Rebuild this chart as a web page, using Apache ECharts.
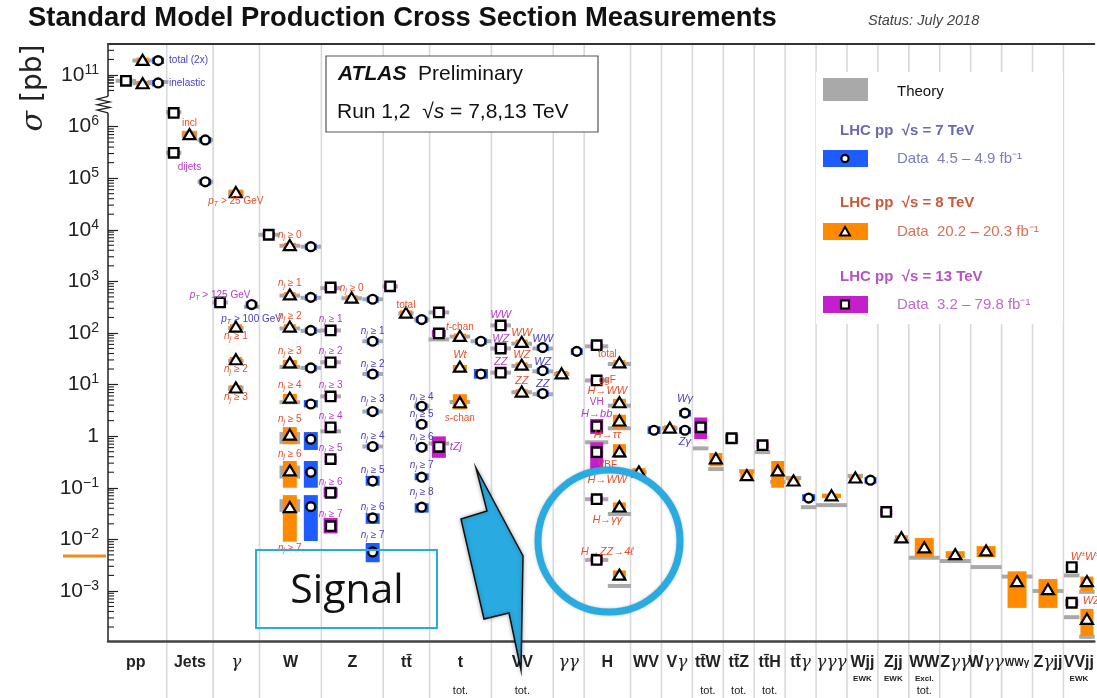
<!DOCTYPE html>
<html>
<head>
<meta charset="utf-8">
<script src="https://cdn.jsdelivr.net/npm/echarts@6.0.0/dist/echarts.min.js"></script>
<style>
html,body{margin:0;padding:0;background:#ffffff;}
#chart{width:1097px;height:698px;}
</style>
</head>
<body>
<div id="chart"></div>
<script>
// ---------------- categories & tick labels ----------------
const categories = ['pp','Jets','γ','W','Z','tt\u0304','t','VV','γγ','H','WV','Vγ','tt\u0304W','tt\u0304Z','tt\u0304H','tt\u0304γ','γγγ','Wjj','Zjj','WW','Zγγ','Wγγ','WWγ','Zγjj','VVjj'];
const categoryNotes = ['','','','','','','tot.','tot.','','','','','tot.','tot.','tot.','','','EWK','EWK','Excl.|tot.','','','','','EWK'];
const yTickExponents = [-3,-2,-1,0,1,2,3,4,5,6,11];

// ---------------- measurements ----------------
// [sqrt(s) TeV, sigma pb, data band low, data band high, theory low, theory high]
const ppData = [
  [8, 1.9e11, null, null, 1.9e11, 1.9e11],
  [7, 1.9e11, null, null, null, null],
  [13, 7.7e10, null, null, 7.7e10, 7.7e10],
  [8, 6.7e10, null, null, 6.9e10, 6.9e10],
  [7, 7.0e10, null, null, 7.0e10, 7.6e10]
];
const jetsData = [
  [13, 1.84e6, null, null, 1.9e6, 1.9e6],
  [8, 6.9e5, 6.2e5, 7.8e5, 6.0e5, 8.3e5],
  [7, 5.5e5, null, null, 5.5e5, 5.5e5],
  [13, 3.1e5, null, null, 3.1e5, 3.1e5],
  [7, 8.5e4, null, null, 8.5e4, 8.5e4]
];
const gammaData = [
  [8, 5.2e4, 4.5e4, 6.0e4, 4.4e4, 5.8e4],
  [13, 390, null, null, 390, 390],
  [7, 355, null, null, 300, 345],
  [8, 129, null, null, 125, 125],
  [8, 30, null, null, 29, 29],
  [8, 8.5, null, null, 7.5, 9.5]
];
const wData = [
  [13, 8000, null, null, 8000, 8000],
  [8, 4900, null, null, 4900, 4900],
  [7, 4700, null, null, 4700, 4700],
  [8, 540, null, null, 530, 530],
  [7, 490, null, null, 480, 480],
  [8, 129, null, null, 122, 122],
  [7, 112, null, null, 110, 110],
  [8, 26, 22, 30, 20, 24],
  [7, 21, null, null, 21, 21],
  [8, 5.4, 4.4, 6.6, 4.2, 4.9],
  [7, 4.2, 3.6, 5.0, null, null],
  [8, 1.04, 0.7, 1.5, 0.7, 1.2],
  [7, 0.87, 0.54, 1.2, null, null],
  [8, 0.21, 0.1, 0.33, 0.15, 0.27],
  [7, 0.20, 0.1, 0.33, null, null],
  [8, 0.041, 0.009, 0.072, 0.034, 0.06],
  [7, 0.043, 0.0093, 0.072, null, null]
];
const zData = [
  [13, 760, null, null, 740, 740],
  [8, 470, null, null, 470, 470],
  [7, 450, null, null, 450, 450],
  [13, 112, null, null, 112, 112],
  [7, 69, null, null, 69, 69],
  [13, 27, null, null, 27, 27],
  [7, 16, null, null, 16, 16],
  [13, 5.9, null, null, 5.9, 5.9],
  [7, 3.0, null, null, 3.0, 3.0],
  [13, 1.48, null, null, 1.24, 1.24],
  [7, 0.63, null, null, 0.63, 0.63],
  [13, 0.36, null, null, null, null],
  [7, 0.135, 0.11, 0.17, null, null],
  [13, 0.08, 0.065, 0.1, null, null],
  [7, 0.026, 0.02, 0.032, null, null],
  [13, 0.018, 0.013, 0.026, null, null],
  [7, 0.0057, 0.0036, 0.0085, null, null]
];
const ttData = [
  [13, 800, null, null, 800, 800],
  [8, 240, null, null, 240, 240],
  [7, 182, null, null, 182, 182],
  [7, 3.8, null, null, 3.8, 3.8],
  [7, 1.7, null, null, null, null],
  [7, 0.61, null, null, null, null],
  [7, 0.16, 0.14, 0.19, null, null],
  [7, 0.042, 0.033, 0.05, null, null]
];
const tData = [
  [13, 250, null, null, 250, 250],
  [13, 98, 84, 115, 75, 75],
  [8, 85, null, null, 85, 85],
  [7, 69, null, null, 69, 69],
  [8, 21.5, 19, 24, null, null],
  [7, 16, 13, 20, null, null],
  [8, 4.4, 3.3, 6.5, 4.6, 4.6],
  [13, 0.62, 0.38, 0.99, 0.72, 0.72]
];
const vvData = [
  [13, 140, null, null, 140, 140],
  [13, 50, null, null, 50, 50],
  [13, 17, null, null, 17, 17],
  [8, 65, null, null, 62, 62],
  [8, 23.5, null, null, 23, 23],
  [8, 7.1, null, null, 7.1, 7.1],
  [7, 52, null, null, 50, 50],
  [7, 18.6, null, null, 18, 18],
  [7, 6.7, null, null, 6.5, 6.5]
];
const ggData = [
  [8, 16, null, null, 16, 16],
  [7, 44, null, null, null, null]
];
const hData = [
  [13, 58, null, null, 55, 55],
  [8, 26, null, null, 25, 25],
  [13, 12, null, null, 12, 12],
  [8, 4.4, 3.7, 5.3, 3.9, 3.9],
  [13, 1.55, 1.1, 2.15, null, null],
  [8, 1.95, 1.4, 2.6, 1.42, 1.42],
  [13, 0.49, 0.2, 0.76, 0.76, 0.76],
  [8, 0.49, 0.38, 0.7, null, null],
  [13, 0.06, null, null, 0.06, 0.06],
  [8, 0.042, 0.035, 0.052, 0.031, 0.031],
  [13, 0.004, null, null, 0.004, 0.004],
  [8, 0.002, 0.0017, 0.0025, 0.00125, 0.00125]
];
const wvData = [
  [8, 0.2, 0.17, 0.24, 0.2, 0.2],
  [7, 1.3, 1.1, 1.55, null, null]
];
const vgData = [
  [8, 1.42, null, null, 1.42, 1.42],
  [7, 2.8, null, null, null, null],
  [7, 1.3, null, null, null, null]
];
const ttwData = [[13, 1.48, 0.88, 2.3, 0.58, 0.58], [8, 0.36, 0.26, 0.47, 0.23, 0.23]];
const ttzData = [[13, 0.91, 0.72, 1.1, null, null], [8, 0.17, 0.14, 0.22, 0.21, 0.21]];
const tthData = [[13, 0.67, null, null, 0.49, 0.49], [8, 0.21, 0.1, 0.33, 0.13, 0.13]];
const ttgData = [[8, 0.134, null, null, 0.155, 0.155], [7, 0.063, 0.055, 0.075, 0.042, 0.042]];
const gggData = [[8, 0.069, 0.063, 0.077, 0.046, 0.046]];
const wjjData = [[8, 0.153, null, null, 0.17, 0.17], [7, 0.14, null, null, null, null]];
const zjjData = [[13, 0.034, null, null, null, null], [8, 0.0106, 0.0093, 0.012, 0.0093, 0.0093]];
const wwData = [[8, 0.0068, 0.0046, 0.0106, 0.0044, 0.0044]];
const zggData = [[8, 0.005, 0.0043, 0.0059, 0.0038, 0.0038]];
const wggData = [[8, 0.0059, 0.0045, 0.0074, 0.0029, 0.0029]];
const wwgData = [[8, 0.0015, 0.00047, 0.0024, 0.0019, 0.0019]];
const zgjjData = [[8, 0.00105, 0.00047, 0.0017, 0.001, 0.001]];
const vvjjData = [
  [13, 0.0029, null, null, 0.002, 0.002],
  [8, 0.0015, 0.001, 0.0019, 0.00096, 0.00096],
  [13, 0.00059, 0.0005, 0.0007, 0.00031, 0.00031],
  [8, 0.00028, 0.000135, 0.00045, 0.000129, 0.000129]
];

// ---------------- point annotations: [slot, sigma pb, text, colour (sqrt s), align] ----------------
const NJ = k => '{i|n}{j|j} ≥ ' + k;
const ppLabels = [['7', 1.9e11, 'total (2x)', 7, 'l'], ['7', 7.0e10, 'inelastic', 7, 'l']];
const jetsLabels = [['8', 1.17e6, 'incl', 8], ['8', 1.6e5, 'dijets', 13]];
const gammaLabels = [['8', 3.6e4, '{i|p}{j|T} > 25 GeV', 8], ['13', 530, '{i|p}{j|T} > 125 GeV', 13], ['7', 182, '{i|p}{j|T} > 100 GeV', 7],
  ['8', 85, NJ(1), 8], ['8', 19.5, NJ(2), 8], ['8', 5.6, NJ(3), 8]];
const wLabels = [['8', 8000, NJ(0), 8], ['8', 910, NJ(1), 8], ['8', 209, NJ(2), 8], ['8', 44, NJ(3), 8], ['8', 9.6, NJ(4), 8],
  ['8', 2.1, NJ(5), 8], ['8', 0.45, NJ(6), 8], ['8', 0.0068, NJ(7), 8]];
const zLabels = [['8', 740, NJ(0), 8],
  ['13', 182, NJ(1), 13], ['13', 44, NJ(2), 13], ['13', 9.7, NJ(3), 13], ['13', 2.4, NJ(4), 13], ['13', 0.58, NJ(5), 13], ['13', 0.129, NJ(6), 13], ['13', 0.031, NJ(7), 13],
  ['7', 107, NJ(1), 7], ['7', 24.5, NJ(2), 7], ['7', 5.2, NJ(3), 7], ['7', 1.0, NJ(4), 7], ['7', 0.22, NJ(5), 7], ['7', 0.042, NJ(6), 7], ['7', 0.0121, NJ(7), 7]];
const ttLabels = [['8', 340, 'total', 8], ['7', 5.6, NJ(4), 7], ['7', 2.65, NJ(5), 7], ['7', 0.95, NJ(6), 7], ['7', 0.27, NJ(7), 7], ['7', 0.082, NJ(8), 7]];
const tLabels = [['8', 128, '{i|t}-chan', 8], ['8', 37, '{I|Wt}', 8], ['8', 2.2, '{i|s}-chan', 8], ['13', 0.62, '{I|tZj}', 13, 'l']];
const vvLabels = [['13', 220, '{I|WW}', 13], ['13', 75, '{I|WZ}', 13], ['13', 27, '{I|ZZ}', 13],
  ['8', 102, '{I|WW}', 8], ['8', 37, '{I|WZ}', 8], ['8', 11.5, '{I|ZZ}', 8],
  ['7', 78, '{I|WW}', 7], ['7', 28, '{I|WZ}', 7], ['7', 10.5, '{I|ZZ}', 7]];
const hLabels = [['c', 38, 'total', 8], ['c', 12, 'ggF', 8], ['c', 7.4, '{I|H→WW}', 8], ['13', 4.5, 'VH', 13], ['13', 2.65, '{I|H→bb}', 13],
  ['c', 1.04, '{I|H→ττ}', 8], ['c', 0.27, 'VBF', 8], ['c', 0.14, '{I|H→WW}', 8], ['c', 0.0236, '{I|H→γγ}', 8], ['c', 0.0057, '{I|H→ZZ→4ℓ}', 8]];
const vgLabels = [['7', 5.2, '{I|Wγ}', 7], ['7', 0.76, '{I|Zγ}', 7]];
const vvjjLabels = [['13', 0.00455, '{I|W}{u|±}{I|W}{u|±}', 8, 'L'], ['13', 0.00064, '{I|WZ}', 8, 'l']];

// ---------------- layout ----------------
const catUnits = [4,3,3,4,4,3,4,4,2,3,2,2,2,2,2,2,2,2,2,2,2,2,2,2,2];
const X0 = 0.2, X1 = 64, YMIN = -3.97, YMAX = 7.6;
const catData = [ppData, jetsData, gammaData, wData, zData, ttData, tData, vvData, ggData, hData, wvData, vgData,
  ttwData, ttzData, tthData, ttgData, gggData, wjjData, zjjData, wwData, zggData, wggData, wwgData, zgjjData, vvjjData];
const catLabels = [ppLabels, jetsLabels, gammaLabels, wLabels, zLabels, ttLabels, tLabels, vvLabels, [], hLabels, [], vgLabels,
  [], [], [], [], [], [], [], [], [], [], [], [], vvjjLabels];

const boxColor = {7:'#1f5cff', 8:'#ff8a00', 13:'#c41fca'};
const textColor = {7:'#4a40b8', 8:'#e4502e', 13:'#b23ec4'};
const GREY = '#a9a9a9';

function ly(v){ const l = Math.log10(v); return l > 8 ? l - 4 : l; }

const unitsStart = []; { let a = 0; for (const u of catUnits){ unitsStart.push(a); a += u; } }
const energiesIn = catData.map(d => [13,8,7].filter(e => d.some(r => r[0] === e)));
function slotX(ci, key){
  const s = unitsStart[ci], u = catUnits[ci];
  if (key === 'c') return s + u / 2;
  const e = +key, es = energiesIn[ci];
  let fr;
  if (ci === 0) fr = {13:.34, 8:.61, 7:.86}[e];
  else if (es.length === 3) fr = {13:.15, 8:.49, 7:.83}[e];
  else if (es.length === 2) fr = es.indexOf(e) === 0 ? .27 : .76;
  else fr = .5;
  return s + fr * u;
}

const pts = [];
catData.forEach((arr, ci) => arr.forEach(r => pts.push({ci, E:r[0], v:r[1], bLo:r[2], bHi:r[3], tLo:r[4], tHi:r[5], x:slotX(ci, String(r[0]))})));
const labs = [];
catLabels.forEach((arr, ci) => arr.forEach(r => labs.push({x:slotX(ci, r[0]), v:r[1], text:r[2], E:r[3], align:r[4] || 'c'})));

const boundaries = unitsStart.slice(1);
const minorVals = [];
for (let d = -4; d <= 11; d++){
  for (let k = 2; k <= 9; k++){
    const y = ly(k * Math.pow(10, d));
    if (d >= 7 && d <= 9) continue;
    if (y < YMIN || y > YMAX) continue;
    if (y > 6.22 && y < 6.62) continue;
    minorVals.push(y);
  }
}

function marker(E, x, y){
  if (E === 7) return {type:'circle', shape:{cx:x, cy:y, r:4.4}, style:{fill:'#fff', stroke:'#000', lineWidth:2.4}};
  if (E === 8) return {type:'polygon', shape:{points:[[x, y-5.8],[x+6, y+4.3],[x-6, y+4.3]]}, style:{fill:'#fff', stroke:'#000', lineWidth:2.2}};
  return {type:'rect', shape:{x:x-4.7, y:y-4.7, width:9.4, height:9.4}, style:{fill:'#fff', stroke:'#000', lineWidth:2.4}};
}

function renderPoint(params, api){
  const p = pts[params.dataIndex];
  const c = api.coord([p.x, ly(p.v)]);
  const unit = api.size([1, 0])[0];
  const ns = energiesIn[p.ci].length;
  const kids = [];
  if (p.tLo != null){
    const tw = catUnits[p.ci] / ns * unit;
    let y1 = api.coord([p.x, ly(p.tHi)])[1], y2 = api.coord([p.x, ly(p.tLo)])[1];
    if (y2 - y1 < 4){ const m = (y1 + y2) / 2; y1 = m - 2; y2 = m + 2; }
    kids.push({type:'rect', shape:{x:c[0]-tw/2, y:y1, width:tw, height:y2-y1}, style:{fill:GREY}});
  }
  let bw, b1, b2;
  if (p.bLo != null){
    bw = ns === 1 ? 19 : (ns === 3 ? 14 : 13);
    b1 = api.coord([p.x, ly(p.bHi)])[1]; b2 = api.coord([p.x, ly(p.bLo)])[1];
  } else { bw = 12; b1 = c[1] - 3; b2 = c[1] + 3.5; }
  kids.push({type:'rect', shape:{x:c[0]-bw/2, y:b1, width:bw, height:b2-b1}, style:{fill:boxColor[p.E]}});
  kids.push(marker(p.E, c[0], c[1]));
  return {type:'group', children:kids};
}

function richFor(col){
  return {
    i:{fontStyle:'italic', fill:col, fontSize:10, fontFamily:'Liberation Sans', lineHeight:12},
    j:{fontStyle:'italic', fill:col, fontSize:7, fontFamily:'Liberation Sans', lineHeight:8, verticalAlign:'bottom'},
    I:{fontStyle:'italic', fill:col, fontSize:11, fontFamily:'Liberation Sans', lineHeight:12},
    u:{fill:col, fontSize:7, fontFamily:'Liberation Sans', lineHeight:8, verticalAlign:'top'}
  };
}
function renderLabel(params, api){
  const L = labs[params.dataIndex];
  const c = api.coord([L.x, ly(L.v)]);
  const col = textColor[L.E];
  let x = c[0], align = 'center';
  if (L.align === 'l'){ x += 11; align = 'left'; }
  else if (L.align === 'L'){ x -= 1; align = 'left'; }
  return {type:'text', x:x, y:c[1], style:{text:L.text, fill:col, fontSize:10, fontFamily:'Liberation Sans', align:align, verticalAlign:'middle', lineHeight:12, rich:richFor(col)}};
}
function renderBoundary(params, api){
  const b = boundaries[params.dataIndex];
  const top = api.coord([b, YMAX]), bot = api.coord([b, YMIN]);
  return {type:'line', shape:{x1:top[0], y1:top[1], x2:bot[0], y2:bot[1] + 60}, style:{stroke:'#d9d9d9', lineWidth:1.6}};
}
function renderMinor(params, api){
  const c = api.coord([X0, minorVals[params.dataIndex]]);
  return {type:'line', shape:{x1:c[0], y1:c[1], x2:c[0] + 6, y2:c[1]}, style:{stroke:'#222', lineWidth:1.1}};
}
function renderBreak(params, api){
  const a = api.coord([X0, 6.585]), b = api.coord([X0, 6.265]);
  const x = a[0], y0 = a[1], h = b[1] - a[1];
  const pts2 = [[x, y0]];
  const n = 6;
  for (let i = 1; i < n; i++) pts2.push([i % 2 ? x - 11 : x + 2, y0 + h * i / n]);
  pts2.push([x, y0 + h]);
  return {type:'group', children:[
    {type:'rect', shape:{x:x-2, y:y0, width:4, height:h}, style:{fill:'#fff'}},
    {type:'polyline', shape:{points:pts2}, style:{stroke:'#222', lineWidth:1.2, fill:null}}
  ]};
}

const centers = catUnits.map((u, i) => unitsStart[i] + u / 2);
function catLabel(val){
  let i = 0, best = 1e9;
  centers.forEach((c, k) => { if (Math.abs(c - val) < best){ best = Math.abs(c - val); i = k; } });
  const name = categories[i];
  const main = name === 'WWγ' ? '{k|WWγ}' : name.replace(/γ/g, '{g|γ}');
  const note = categoryNotes[i];
  if (!note) return main;
  if (note === 'tot.') return main + '\n{e| }\n{s|tot.}';
  if (note === 'EWK') return main + '\n{e|EWK}';
  const parts = note.split('|');
  return main + '\n{e|' + parts[0] + '}\n{s|' + parts[1] + '}';
}

const yTickVals = yTickExponents.map(e => ly(Math.pow(10, e)));

const chart = echarts.init(document.getElementById('chart'));
const option = {
  animation: false,
  backgroundColor: '#ffffff',
  grid: {left:108, right:0, top:44, bottom:56},
  xAxis: [
    {type:'value', min:X0, max:X1, z:10,
     axisLine:{show:true, onZero:false, lineStyle:{color:'#444', width:2.5}},
     axisTick:{show:false}, splitLine:{show:false},
     axisLabel:{customValues:centers, formatter:catLabel, margin:12, color:'#222', fontSize:16, fontWeight:'bold', fontFamily:'Liberation Sans', lineHeight:20,
       rich:{
         g:{fontStyle:'italic', fontWeight:'normal', fontSize:17, fontFamily:'DejaVu Serif', color:'#222', lineHeight:20},
         k:{fontSize:10, fontWeight:'bold', fontFamily:'Liberation Sans', color:'#222', lineHeight:20},
         e:{fontSize:8, fontWeight:'bold', fontFamily:'Liberation Sans', color:'#222', lineHeight:11},
         s:{fontSize:11, fontWeight:'normal', fontFamily:'Liberation Sans', color:'#222', lineHeight:14}
       }}},
    {type:'value', min:X0, max:X1, position:'top', z:10,
     axisLine:{show:true, onZero:false, lineStyle:{color:'#333', width:2}},
     axisTick:{show:false}, splitLine:{show:false}, axisLabel:{show:false}}
  ],
  yAxis: {type:'value', min:YMIN, max:YMAX, z:10,
    axisLine:{show:true, onZero:false, lineStyle:{color:'#222', width:1.5}},
    axisTick:{show:true, inside:true, length:10, customValues:yTickVals, lineStyle:{color:'#222', width:1.2}},
    splitLine:{show:false},
    axisLabel:{customValues:yTickVals, margin:9, color:'#222',
      formatter: v => { const e = v > 6.5 ? Math.round(v) + 4 : Math.round(v); if (e === 0) return '{b|1}'; return '{b|10}{u|' + (e < 0 ? '\u2212' + (-e) : e) + '}'; },
      rich:{
        b:{fontSize:21, fontFamily:'Liberation Sans', color:'#222', lineHeight:24},
        u:{fontSize:14, fontFamily:'Liberation Sans', color:'#222', lineHeight:14, verticalAlign:'top'}
      }}},
  series: [
    {type:'custom', name:'boundaries', z:1, silent:true, clip:false, renderItem:renderBoundary, data:boundaries.map(b => [b, YMAX])},
    {type:'custom', name:'minorTicks', z:11, silent:true, clip:false, renderItem:renderMinor, data:minorVals.map(v => [X0, v])},
    {type:'custom', name:'axisBreak', z:20, silent:true, clip:false, renderItem:renderBreak, data:[[X0, 6.42]]},
    {type:'custom', name:'measurements', z:3, silent:true, clip:false, renderItem:renderPoint, data:pts.map(p => [p.x, ly(p.v)])},
    {type:'custom', name:'annotations', z:4, silent:true, clip:false, renderItem:renderLabel, data:labs.map(l => [l.x, ly(l.v)])}
  ],
  graphic: {elements: [
    {type:'text', left:28, top:5, z:50, style:{text:'Standard Model Production Cross Section Measurements', fontSize:27.4, fontWeight:'bold', fontFamily:'Liberation Sans', fill:'#111'}},
    {type:'text', left:868, top:13, z:50, style:{text:'Status: July 2018', fontSize:14.5, fontStyle:'italic', fontFamily:'Liberation Sans', fill:'#444'}},
    {type:'text', x:34, y:88, rotation:Math.PI/2, z:50, style:{text:'{i|σ} [pb]', align:'center', verticalAlign:'middle', fontSize:28, fontFamily:'DejaVu Sans', fill:'#222',
      rich:{i:{fontStyle:'italic', fontSize:30, fontFamily:'DejaVu Serif', fill:'#222'}}}},
    // ATLAS box
    {type:'rect', z:50, shape:{x:326, y:56, width:272, height:76}, style:{fill:'#fff', stroke:'#555', lineWidth:1.2}},
    {type:'text', x:338, y:74, z:51, style:{text:'{b|ATLAS}  Preliminary', verticalAlign:'middle', fontSize:21, fontFamily:'Liberation Sans', fill:'#111',
      rich:{b:{fontSize:21, fontWeight:'bold', fontStyle:'italic', fontFamily:'Liberation Sans', fill:'#111'}}}},
    {type:'text', x:337, y:112, z:51, style:{text:'Run 1,2  √{i|s} = 7,8,13 TeV', verticalAlign:'middle', fontSize:21, fontFamily:'Liberation Sans', fill:'#111',
      rich:{i:{fontSize:21, fontStyle:'italic', fontFamily:'Liberation Sans', fill:'#111'}}}},
    // legend
    {type:'rect', z:50, shape:{x:816, y:72, width:247, height:252}, style:{fill:'#fff'}},
    {type:'rect', z:51, shape:{x:823, y:78, width:45, height:23}, style:{fill:'#a9a9a9'}},
    {type:'text', x:897, y:92, z:51, style:{text:'Theory', verticalAlign:'middle', fontSize:15, fontFamily:'Liberation Sans', fill:'#111'}},
    {type:'text', x:840, y:131, z:51, style:{text:'LHC pp  √s = 7 TeV', verticalAlign:'middle', fontSize:15, fontWeight:'bold', fontFamily:'Liberation Sans', fill:'#6a6aae'}},
    {type:'rect', z:51, shape:{x:823, y:150, width:45, height:17}, style:{fill:'#1f5cff'}},
    {type:'circle', z:52, shape:{cx:845, cy:158.5, r:3.6}, style:{fill:'#fff', stroke:'#000', lineWidth:2.2}},
    {type:'text', x:897, y:159, z:51, style:{text:'Data  4.5 – 4.9 fb⁻¹', verticalAlign:'middle', fontSize:15, fontFamily:'Liberation Sans', fill:'#7d7dba'}},
    {type:'text', x:840, y:203, z:51, style:{text:'LHC pp  √s = 8 TeV', verticalAlign:'middle', fontSize:15, fontWeight:'bold', fontFamily:'Liberation Sans', fill:'#c85a3c'}},
    {type:'rect', z:51, shape:{x:823, y:223, width:45, height:17}, style:{fill:'#ff8a00'}},
    {type:'polygon', z:52, shape:{points:[[845, 227],[850, 235.5],[840, 235.5]]}, style:{fill:'#fff', stroke:'#000', lineWidth:2}},
    {type:'text', x:897, y:232, z:51, style:{text:'Data  20.2 – 20.3 fb⁻¹', verticalAlign:'middle', fontSize:15, fontFamily:'Liberation Sans', fill:'#d8725a'}},
    {type:'text', x:840, y:277, z:51, style:{text:'LHC pp  √s = 13 TeV', verticalAlign:'middle', fontSize:15, fontWeight:'bold', fontFamily:'Liberation Sans', fill:'#b455c2'}},
    {type:'rect', z:51, shape:{x:823, y:296, width:45, height:17}, style:{fill:'#c41fca'}},
    {type:'rect', z:52, shape:{x:841, y:300.5, width:8, height:8}, style:{fill:'#fff', stroke:'#000', lineWidth:2.2}},
    {type:'text', x:897, y:305, z:51, style:{text:'Data  3.2 – 79.8 fb⁻¹', verticalAlign:'middle', fontSize:15, fontFamily:'Liberation Sans', fill:'#bd6cc8'}},
    // overlay annotations
    {type:'line', z:100, shape:{x1:63, y1:556, x2:106, y2:556}, style:{stroke:'#f08c1e', lineWidth:3}},
    {type:'rect', z:100, shape:{x:256, y:550, width:181, height:78}, style:{fill:null, stroke:'#29abe2', lineWidth:2}},
    {type:'text', x:347, y:591, z:101, style:{text:'Signal', align:'center', verticalAlign:'middle', fontSize:41, fontFamily:'Open Sans', fill:'#111'}},
    {type:'circle', z:100, shape:{cx:609, cy:541, r:71}, style:{fill:null, stroke:'#29abe2', lineWidth:7, shadowBlur:3, shadowColor:'rgba(0,0,0,0.25)'}},
    {type:'polygon', z:100, shape:{points:[[476,468],[487,511],[461,519],[484,619],[509,613],[521,670],[523,556]]},
      style:{fill:'#29abe2', stroke:'#111', lineWidth:1.5, shadowBlur:4, shadowColor:'rgba(0,0,0,0.3)'}}
  ]}
};
chart.setOption(option);
</script>
</body>
</html>
